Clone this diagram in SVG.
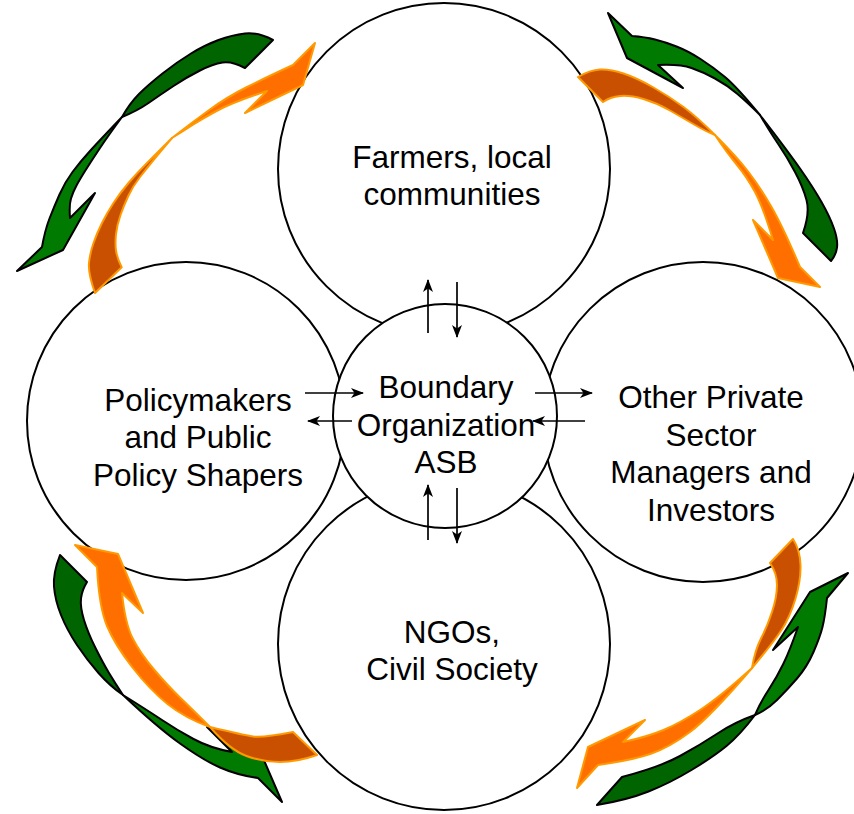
<svg xmlns="http://www.w3.org/2000/svg" width="854" height="814" viewBox="0 0 854 814">
  <defs>
    <marker id="head" markerUnits="userSpaceOnUse" markerWidth="13" markerHeight="11" refX="12" refY="5" orient="auto">
      <path d="M0,0 L13,5 L0,10 L3.5,5 z" fill="#000"/>
    </marker>
    <style>
      .node { fill: #fff; stroke: #000; stroke-width: 2; }
      .label { font-family: "Liberation Sans", Arial, sans-serif; font-size: 31.5px; fill: #000; text-anchor: middle; }
      .flow { stroke: #000; stroke-width: 1.7; fill: none; marker-end: url(#head); }
      .g-front { fill: #007a00; stroke: #000; stroke-width: 2; stroke-linejoin: round; }
      .g-back { fill: #006400; stroke: #000; stroke-width: 2; stroke-linejoin: round; }
      .o-front { fill: #ff6f00; stroke: #ff9900; stroke-width: 2; stroke-linejoin: round; }
      .o-back { fill: #c85000; stroke: #ff9900; stroke-width: 2; stroke-linejoin: round; }
    </style>
  </defs>

  <!-- stakeholder circles -->
  <g id="farmers">
    <circle class="node" cx="444" cy="169" r="166"/>
    <text class="label" x="452" y="168">Farmers, local</text>
    <text class="label" x="452" y="205">communities</text>
  </g>
  <g id="policymakers">
    <circle class="node" cx="186" cy="421" r="159"/>
    <text class="label" x="198" y="411">Policymakers</text>
    <text class="label" x="198" y="448">and Public</text>
    <text class="label" x="198" y="486">Policy Shapers</text>
  </g>
  <g id="private-sector">
    <circle class="node" cx="703" cy="422" r="160"/>
    <text class="label" x="711" y="408">Other Private</text>
    <text class="label" x="711" y="446">Sector</text>
    <text class="label" x="711" y="483">Managers and</text>
    <text class="label" x="711" y="521">Investors</text>
  </g>
  <g id="ngos">
    <circle class="node" cx="444" cy="644" r="166"/>
    <text class="label" x="452" y="643">NGOs,</text>
    <text class="label" x="452" y="680">Civil Society</text>
  </g>
  <g id="boundary-org">
    <circle class="node" cx="445" cy="416" r="112"/>
    <text class="label" x="446" y="398">Boundary</text>
    <text class="label" x="446" y="436">Organization</text>
    <text class="label" x="446" y="473">ASB</text>
  </g>

  <!-- exchange arrows between the boundary organization and each group -->
  <g id="connectors">
    <line class="flow" x1="428" y1="333" x2="428" y2="280"/>
    <line class="flow" x1="457" y1="282" x2="457" y2="337"/>
    <line class="flow" x1="428" y1="540" x2="428" y2="485"/>
    <line class="flow" x1="457" y1="488" x2="457" y2="543"/>
    <line class="flow" x1="305" y1="393" x2="363" y2="393"/>
    <line class="flow" x1="352" y1="421" x2="308" y2="421"/>
    <line class="flow" x1="535" y1="393" x2="592" y2="393"/>
    <line class="flow" x1="585" y1="421" x2="533" y2="421"/>
  </g>

  <!-- outer cycle: twisted ribbon arrows -->
  <g id="cycle-top-left">
    <path class="g-back" d="M273,40 Q258,32 245,33.5 Q232,35 218.5,40 Q205,45 191,53.5 Q177,62 162.5,73.5 Q148,85 139,94 Q130,103 122,117 Q137,111 148.5,103 Q160,95 173.5,86 Q187,77 200,70.5 Q213,64 222.5,62.5 Q232,61 245,68 Z"/>
    <path class="g-front" d="M122,117 Q100,140 90,151 Q80,162 72.5,172 Q65,182 59.5,194.5 Q54,207 49.5,218.5 Q45,230 42,247 L17,271 L63,250 L95,193 L70,218 Q69,205 71,198.5 Q73,192 76.5,185.5 Q80,179 86,169.5 Q92,160 100,148 Q108,136 122,117 Z"/>
    <path class="o-back" d="M95,293 Q88,273 89,263 Q90,253 93.5,243 Q97,233 102,223 Q107,213 113.5,203 Q120,193 128.5,183 Q137,173 147,163 Q157,153 172,138 Q160,152 153.5,160 Q147,168 140,177 Q133,186 128.5,195.5 Q124,205 120.5,215 Q117,225 116,234 Q115,243 116,250.5 Q117,258 121.7,267.3 Z"/>
    <path class="o-front" d="M172,138 Q190,124 208.5,110.5 Q227,97 247,87 Q267,77 293,65 L315,43 L303,85 L245,113 L267,91 Q233,102 216.5,111 Q200,120 192.5,125 Q185,130 172,138 Z"/>
  </g>

  <g id="cycle-top-right">
    <path class="g-front" d="M608,13 L632,36 Q645,37 655,39.5 Q665,42 676.5,46.5 Q688,51 700.5,59 Q713,67 725,77 Q737,87 760,115 Q748,103 737.5,94 Q727,85 715,78.5 Q703,72 691.5,68 Q680,64 658,65 L683,88 L627,58 Z"/>
    <path class="g-back" d="M760,115 Q787,150 800,168.5 Q813,187 821.5,202 Q830,217 834,228.5 Q838,240 837,247.5 Q836,255 831,261 L803,233 Q810,213 806.5,200 Q803,187 795,172 Q787,157 778.5,144.5 Q770,132 760,115 Z"/>
    <path class="o-back" d="M578,77 Q590,70 600,69.5 Q610,69 623.5,73.5 Q637,78 653.5,87.5 Q670,97 683.5,107 Q697,117 715,135 Q707,132 695,125 Q683,118 670,110.5 Q657,103 643.5,99 Q630,95 620,96 Q610,97 603,102 Z"/>
    <path class="o-front" d="M715,135 Q737,157 748.5,172 Q760,187 771.5,207 Q783,227 800,267 L820,287 L778,278 L753,220 L773,240 Q763,207 755,192 Q747,177 737,165 Q727,153 715,135 Z"/>
  </g>

  <g id="cycle-bottom-left">
    <path class="g-back" d="M60,555 Q53,573 54,586.5 Q55,600 61,615 Q67,630 77,645 Q87,660 98.5,673 Q110,686 123,695 Q115,683 109,673 Q103,663 95.5,648 Q88,633 84,620 Q80,607 81,598.5 Q82,590 87,582 Z"/>
    <path class="g-front" d="M123,695 Q157,727 180,743.5 Q203,760 220,767.5 Q237,775 258,778 L282,802 L263,758 L207,727 L232,752 Q210,748 193.5,739 Q177,730 162,720 Q147,710 123,695 Z"/>
    <path class="o-front" d="M75,545 L118,554 L143,613 L122,593 Q125,623 132.5,638 Q140,653 154,669.5 Q168,686 180.5,698 Q193,710 210,727 Q185,718 167.5,704 Q150,690 132.5,667.5 Q115,645 107,626 Q99,607 97,567 Z"/>
    <path class="o-back" d="M210,727 Q243,735 253,736.5 Q263,738 293,732 L317,755 Q297,762 280,762 Q263,762 246.5,756 Q230,750 210,727 Z"/>
  </g>

  <g id="cycle-bottom-right">
    <path class="o-back" d="M793,539 Q800,550 800.5,565 Q801,580 795.5,598.5 Q790,617 781.5,630 Q773,643 752,668 Q755,650 761,638.5 Q767,627 772,612 Q777,597 777,585 Q777,573 770,563 Z"/>
    <path class="o-front" d="M752,668 Q720,697 700,710 Q680,723 663.5,730 Q647,737 623,742 L645,720 L588,747 L577,788 L598,765 Q633,760 651.5,753.5 Q670,747 690,732 Q710,717 752,668 Z"/>
    <path class="g-front" d="M848,573 L827,598 Q825,617 822.5,627 Q820,637 813.5,652 Q807,667 797,678.5 Q787,690 777,700 Q767,710 755,715 Q760,703 768.5,690 Q777,677 783.5,663.5 Q790,650 798,627 L773,650 L810,592 Z"/>
    <path class="g-back" d="M755,715 Q740,735 726.5,746 Q713,757 691.5,770 Q670,783 648.5,791.5 Q627,800 597,805 L622,777 Q660,767 680,756 Q700,745 717.5,733.5 Q735,722 755,715 Z"/>
  </g>
</svg>
